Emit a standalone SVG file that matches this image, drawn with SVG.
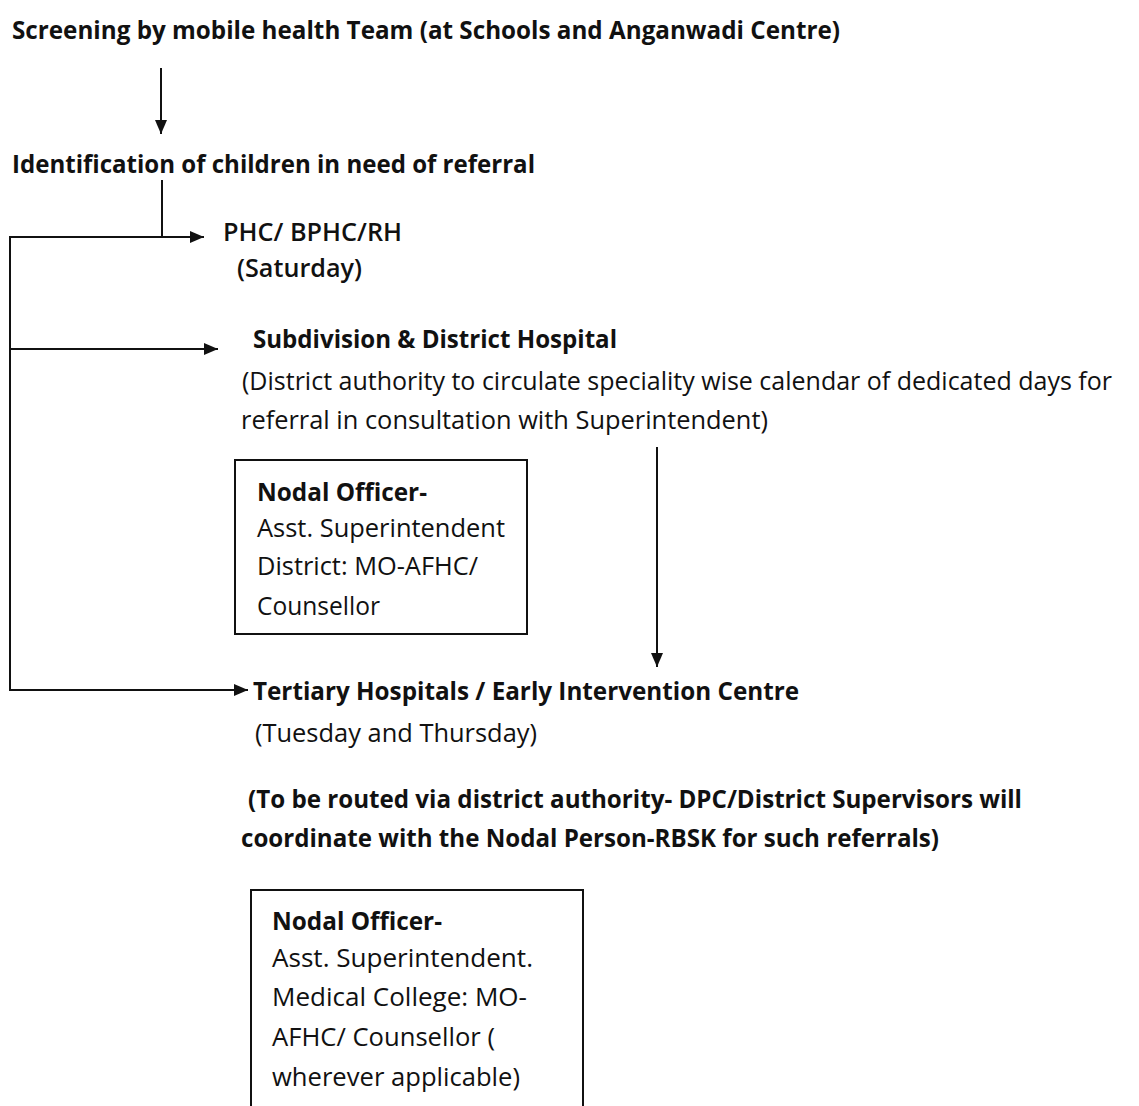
<svg xmlns="http://www.w3.org/2000/svg" width="1139" height="1106" viewBox="0 0 1139 1106">
<style>
text{font-family:"Open Sans","Liberation Sans",sans-serif;fill:#111;}
.t{font-size:25px;}
.b{font-weight:bold;}
.sb{font-weight:600;}
.bx{font-size:25px;}
.ln{fill:none;stroke:#111;stroke-width:2;}
.box{fill:#fff;stroke:#111;stroke-width:2;}
</style>
<defs>
<marker id="ah" viewBox="0 0 14 12" refX="14" refY="6" markerWidth="14" markerHeight="12" markerUnits="userSpaceOnUse" orient="auto">
<path d="M0,0 L14,6 L0,12 Z" fill="#111"/>
</marker>
</defs>
<rect width="1139" height="1106" fill="#fff"/>
<g id="connectors">
<line class="ln" x1="161" y1="68" x2="161" y2="134" marker-end="url(#ah)"/>
<polyline class="ln" points="162,180 162,237"/>
<line class="ln" x1="10" y1="237" x2="204" y2="237" marker-end="url(#ah)"/>
<line class="ln" x1="10" y1="236" x2="10" y2="691"/>
<line class="ln" x1="10" y1="349" x2="218" y2="349" marker-end="url(#ah)"/>
<line class="ln" x1="10" y1="690" x2="248" y2="690" marker-end="url(#ah)"/>
<line class="ln" x1="657" y1="447" x2="657" y2="667" marker-end="url(#ah)"/>
</g>
<g id="screening">
<text class="t b" x="12" y="39" textLength="828" lengthAdjust="spacingAndGlyphs">Screening by mobile health Team (at Schools and Anganwadi Centre)</text>
</g>
<g id="identification">
<text class="t b" x="12" y="173" textLength="523" lengthAdjust="spacingAndGlyphs">Identification of children in need of referral</text>
</g>
<g id="phc">
<text class="t sb" x="223" y="241" textLength="179" lengthAdjust="spacingAndGlyphs">PHC/ BPHC/RH</text>
<text class="t sb" x="237" y="277" textLength="125" lengthAdjust="spacingAndGlyphs">(Saturday)</text>
</g>
<g id="subdivision">
<text class="t b" x="253" y="348" textLength="364" lengthAdjust="spacingAndGlyphs">Subdivision &amp; District Hospital</text>
<text class="t" x="242" y="390" textLength="870" lengthAdjust="spacingAndGlyphs">(District authority to circulate speciality wise calendar of dedicated days for</text>
<text class="t" x="241" y="429" textLength="527" lengthAdjust="spacingAndGlyphs">referral in consultation with Superintendent)</text>
</g>
<g id="nodal-district">
<rect class="box" x="235" y="460" width="292" height="174"/>
<text class="bx b" x="257" y="501" textLength="170" lengthAdjust="spacingAndGlyphs">Nodal Officer-</text>
<text class="bx" x="257" y="537" textLength="248" lengthAdjust="spacingAndGlyphs">Asst. Superintendent</text>
<text class="bx" x="257" y="575" textLength="221" lengthAdjust="spacingAndGlyphs">District: MO-AFHC/</text>
<text class="bx" x="257" y="615" textLength="123" lengthAdjust="spacingAndGlyphs">Counsellor</text>
</g>
<g id="tertiary">
<text class="t b" x="253" y="700" textLength="546" lengthAdjust="spacingAndGlyphs">Tertiary  Hospitals / Early Intervention Centre</text>
<text class="t" x="255" y="742" textLength="282" lengthAdjust="spacingAndGlyphs">(Tuesday and Thursday)</text>
</g>
<g id="routing-note">
<text class="t b" x="248" y="808" textLength="774" lengthAdjust="spacingAndGlyphs">(To be routed via district authority- DPC/District Supervisors will</text>
<text class="t b" x="241" y="847" textLength="698" lengthAdjust="spacingAndGlyphs">coordinate with the Nodal Person-RBSK for such referrals)</text>
</g>
<g id="nodal-medical">
<rect class="box" x="251" y="890" width="332" height="240"/>
<text class="bx b" x="272" y="930" textLength="170" lengthAdjust="spacingAndGlyphs">Nodal Officer-</text>
<text class="bx" x="272" y="967" textLength="261" lengthAdjust="spacingAndGlyphs">Asst.  Superintendent.</text>
<text class="bx" x="272" y="1006" textLength="255" lengthAdjust="spacingAndGlyphs">Medical College: MO-</text>
<text class="bx" x="272" y="1046" textLength="223" lengthAdjust="spacingAndGlyphs">AFHC/ Counsellor (</text>
<text class="bx" x="272" y="1086" textLength="248" lengthAdjust="spacingAndGlyphs">wherever applicable)</text>
</g>
</svg>
